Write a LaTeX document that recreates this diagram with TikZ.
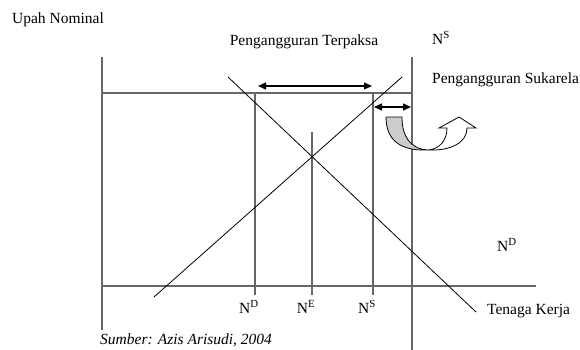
\documentclass[tikz,border=0pt]{standalone}
\usepackage{fontspec}
\setmainfont{Liberation Serif}
\usetikzlibrary{arrows.meta,positioning,calc}

\begin{document}
\begin{tikzpicture}[x=1pt,y=-1pt,
  ax/.style={draw=black!60,line width=1.6pt},
  gl/.style={draw=black!60,line width=1.3pt},
  cv/.style={draw=black,line width=0.8pt},
  sp/.style={{Triangle[length=8pt,width=7pt]}-{Triangle[length=8pt,width=7pt]},line width=1.3pt},
  lb/.style={font=\fontsize{15.5}{18}\selectfont,inner sep=0pt}]
\useasboundingbox (0,0) rectangle (580,349);
% axes and wage level
\coordinate (o) at (102,286);
\coordinate (yt) at (102,57);
\coordinate (yb) at (102,330);
\coordinate (xr) at (536,286);
\coordinate (w0) at (102,93);
\coordinate (w1) at (412,93);
\coordinate (vt) at (412,57);
\coordinate (vb) at (412,352);
\draw[ax] (yt)--(yb);
\draw[ax] (o)--(xr);
\draw[gl] (w0)--(w1);
\draw[gl] (vt)--(vb);
% employment levels
\coordinate (dT) at (255,93);  \coordinate (dB) at (255,295);
\coordinate (eT) at (312,132); \coordinate (eB) at (312,295);
\coordinate (sT) at (373,93);  \coordinate (sB) at (373,295);
\draw[gl] (dT)--(dB); \draw[gl] (eT)--(eB); \draw[gl] (sT)--(sB);
% demand and supply
\coordinate (d0) at (228,77);  \coordinate (d1) at (476,312);
\coordinate (s0) at (154,297); \coordinate (s1) at (402,77);
\draw[cv] (d0)--(d1); \draw[cv] (s0)--(s1);
% unemployment spans
\coordinate (a0) at (258,86);  \coordinate (a1) at (372,86);
\coordinate (b0) at (374,107); \coordinate (b1) at (411,107);
\draw[sp] (a0)--(a1); \draw[sp] (b0)--(b1);
% u-turn arrow
\fill[black!20] (386,117)--(402,117) .. controls (402,136) and (410,149) .. (428,150)
  .. controls (404,151) and (386,143) .. cycle;
\draw[line width=0.8pt] (386,117)--(402,117) .. controls (402,136) and (410,149) .. (428,150)
  .. controls (404,151) and (386,143) .. cycle;
\draw[line width=0.8pt,fill=white] (428,150) .. controls (440,149) and (447,140) .. (447,128)
  --(439,128)--(459,117)--(476,128)--(467,128)
  .. controls (467,142) and (452,151) .. (428,150);
% labels
\node[lb] (upah) at (58,20) {Upah Nominal};
\node[lb] (tpk) at (304,42) {Pengangguran Terpaksa};
\node[lb,anchor=west] (nsT) at (432,38) {N\textsuperscript{S}};
\node[lb,anchor=west] (skr) at (432,80) {Pengangguran Sukarela};
\node[lb,anchor=west] (ndR) at (497,245) {N\textsuperscript{D}};
\node[lb] (ndB) at (249,307) {N\textsuperscript{D}};
\node[lb] (neB) at (306,307) {N\textsuperscript{E}};
\node[lb] (nsB) at (367,307) {N\textsuperscript{S}};
\node[lb,anchor=west] (tk) at (487,311) {Tenaga Kerja};
\node[lb,anchor=west] (src) at (100,340) {\itshape Sumber: Azis Arisudi, 2004};
\end{tikzpicture}
\end{document}
